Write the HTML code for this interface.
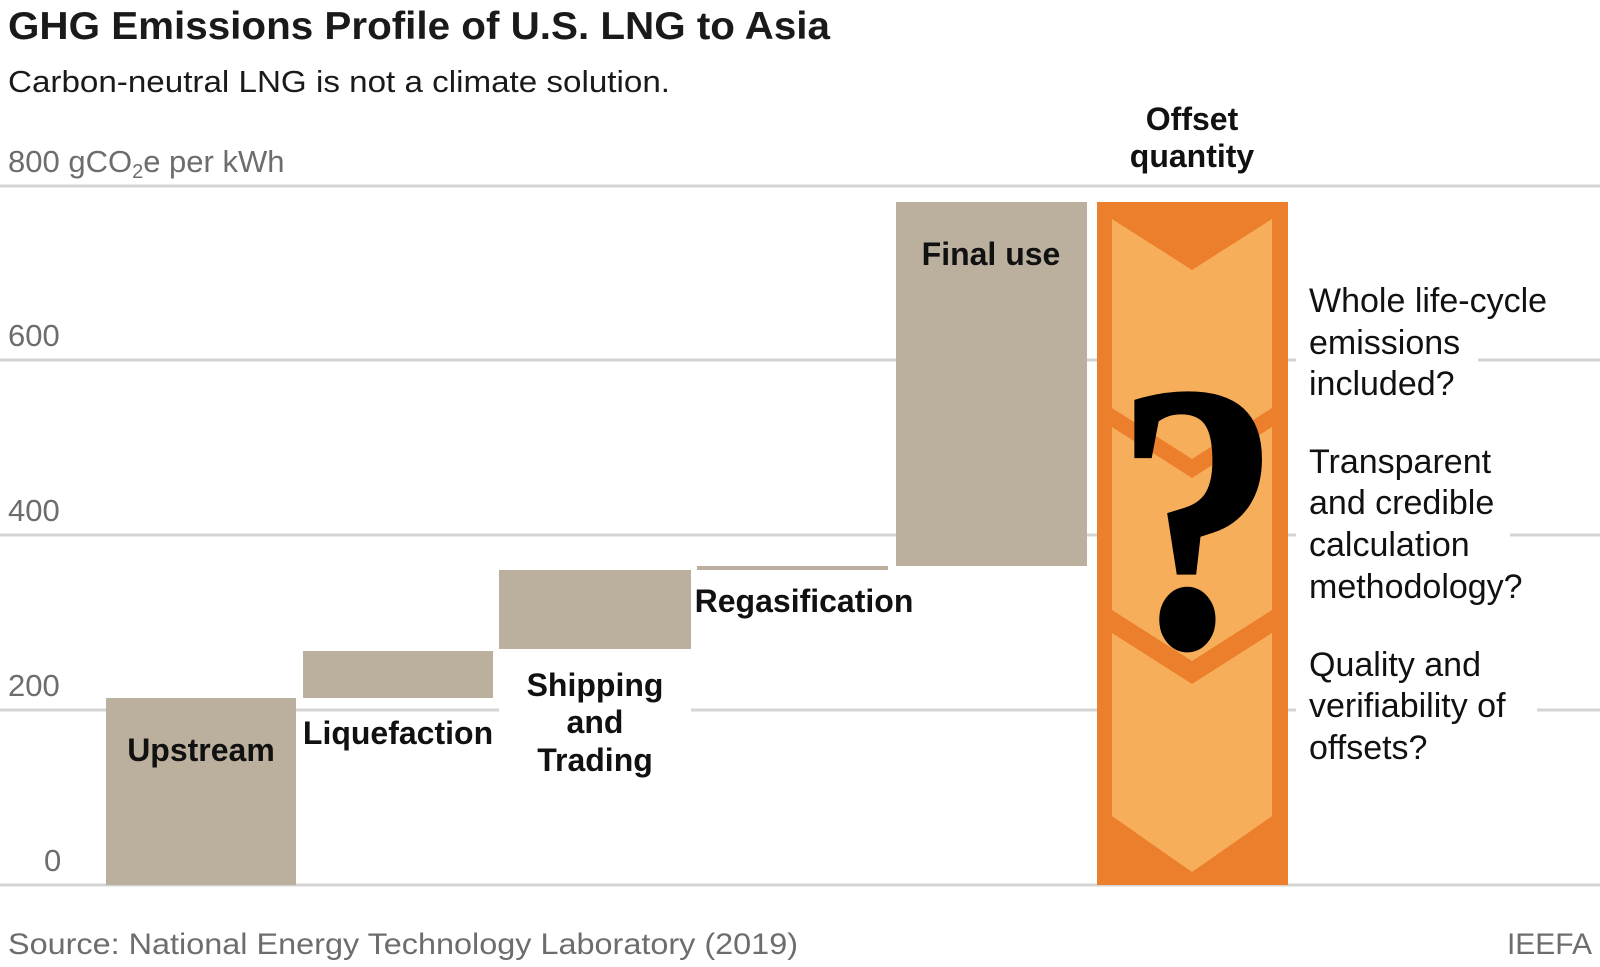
<!DOCTYPE html>
<html><head><meta charset="utf-8"><style>
html,body{margin:0;padding:0;background:#fff;}
svg{display:block;font-family:"Liberation Sans",sans-serif;}
</style></head><body>
<svg width="1600" height="967" viewBox="0 0 1600 967" xmlns="http://www.w3.org/2000/svg">
<text x="8" y="39" font-size="39" font-weight="bold" fill="#1a1a1a" textLength="822" lengthAdjust="spacingAndGlyphs">GHG Emissions Profile of U.S. LNG to Asia</text>
<text x="8" y="92" font-size="31" fill="#1a1a1a" textLength="662" lengthAdjust="spacingAndGlyphs">Carbon-neutral LNG is not a climate solution.</text>
<text x="8" y="172" font-size="31" fill="#6d6d6d">800 gCO<tspan font-size="20" dy="6">2</tspan><tspan dy="-6">e per kWh</tspan></text>
<g stroke="#d4d4d4" stroke-width="3">
<line x1="0" y1="186" x2="1600" y2="186"/>
<line x1="0" y1="360" x2="1600" y2="360"/>
<line x1="0" y1="535" x2="1600" y2="535"/>
<line x1="0" y1="710" x2="1600" y2="710"/>
<line x1="0" y1="885" x2="1600" y2="885"/>
</g>
<g font-size="31" fill="#6d6d6d">
<text x="8" y="346">600</text>
<text x="8" y="521">400</text>
<text x="8" y="696">200</text>
<text x="44" y="871">0</text>
</g>
<g fill="#bab09d">
<rect x="106" y="698" width="190" height="187"/>
<rect x="303" y="651" width="190" height="47"/>
<rect x="499" y="570" width="192" height="79"/>
<rect x="697" y="566" width="191" height="4"/>
<rect x="896" y="202" width="191" height="364"/>
</g>
<rect x="499" y="660" width="192" height="120" fill="#fff"/>
<g font-size="32" font-weight="bold" fill="#111" text-anchor="middle">
<text x="201" y="761">Upstream</text>
<text x="398" y="744">Liquefaction</text>
<text x="595" y="696">Shipping</text>
<text x="595" y="733">and</text>
<text x="595" y="771">Trading</text>
<text x="804" y="612">Regasification</text>
<text x="991" y="265">Final use</text>
<text x="1192" y="130">Offset</text>
<text x="1192" y="167">quantity</text>
</g>
<rect x="1097" y="202" width="191" height="683" fill="#ec7f2c"/>
<g fill="#f7ae5b">
<polygon points="1112,219 1192,270 1272,219 1272,408 1192,459 1112,408"/>
<polygon points="1112,427 1192,478 1272,427 1272,610 1192,661 1112,610"/>
<polygon points="1112,633 1192,684 1272,633 1272,816 1192,872 1112,816"/>
</g>
<text transform="translate(1198,645) scale(0.86,1)" font-family="'Liberation Serif',serif" font-size="380" font-weight="bold" fill="#000" stroke="#000" stroke-width="4" text-anchor="middle">?</text>
<g fill="#fff">
<rect x="1296" y="340" width="182" height="40"/>
<rect x="1296" y="515" width="214" height="40"/>
<rect x="1296" y="690" width="241" height="40"/>
</g>
<g font-size="34" fill="#111">
<text x="1309" y="312">Whole life-cycle</text>
<text x="1309" y="354">emissions</text>
<text x="1309" y="395">included?</text>
<text x="1309" y="473">Transparent</text>
<text x="1309" y="514">and credible</text>
<text x="1309" y="556">calculation</text>
<text x="1309" y="598">methodology?</text>
<text x="1309" y="676">Quality and</text>
<text x="1309" y="717">verifiability of</text>
<text x="1309" y="759">offsets?</text>
</g>
<text x="8" y="954" font-size="30" fill="#6d6d6d" textLength="790" lengthAdjust="spacingAndGlyphs">Source: National Energy Technology Laboratory (2019)</text>
<text x="1592" y="954" font-size="30" fill="#6d6d6d" text-anchor="end">IEEFA</text>
</svg>
</body></html>
